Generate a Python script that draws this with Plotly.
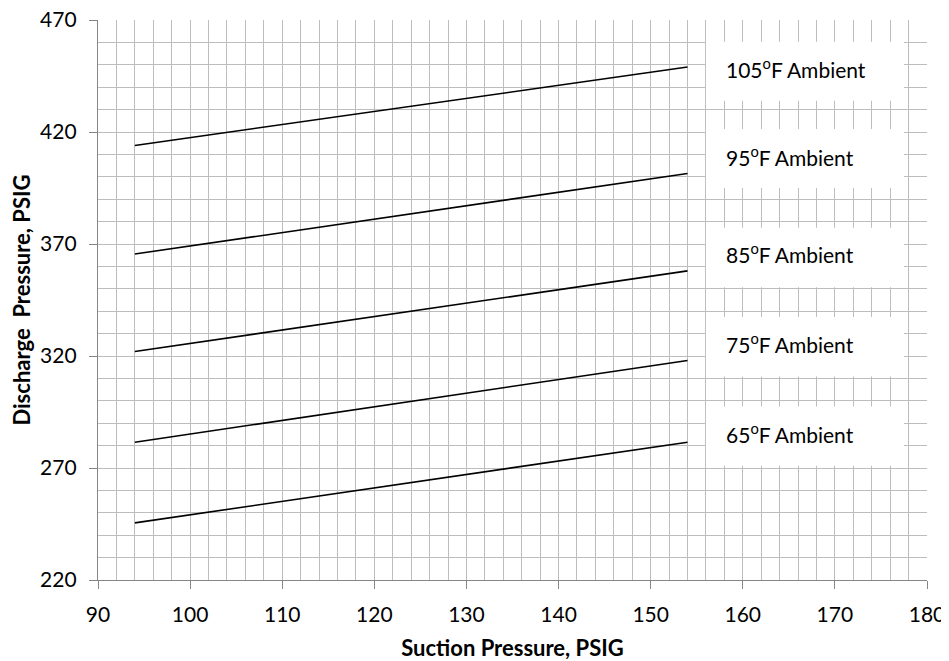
import plotly.graph_objects as go

# Data
suction = [94, 154]
series_names = ["105°F Ambient", "95°F Ambient", "85°F Ambient", "75°F Ambient", "65°F Ambient"]
label_texts = ["105<sup>o</sup>F Ambient", "95<sup>o</sup>F Ambient", "85<sup>o</sup>F Ambient",
               "75<sup>o</sup>F Ambient", "65<sup>o</sup>F Ambient"]
discharge_105 = [414, 449]
discharge_95 = [365.5, 401.5]
discharge_85 = [322, 358]
discharge_75 = [281.5, 318]
discharge_65 = [245.5, 281.5]
all_discharge = [discharge_105, discharge_95, discharge_85, discharge_75, discharge_65]

# Label box positions (style)
box_x = (156.0, 177.5)
box_y = [(434.0, 460.3), (395.0, 421.3), (350.7, 377.3), (310.8, 337.4), (271.0, 297.4)]
text_y = [448.7, 409.3, 366.0, 325.8, 285.6]
text_x = 158.0

FONT = "Lato"
GRID = "#bdbdbd"
AXIS = "#868686"
X_RANGE = [90, 180]
Y_RANGE = [220, 470]

fig = go.Figure()
# invisible trace on the fine-grid axes so they render
fig.add_trace(go.Scatter(x=X_RANGE, y=Y_RANGE, xaxis="x2", yaxis="y2", mode="markers",
                         marker=dict(opacity=0), hoverinfo="skip", showlegend=False))
for name, ys in zip(series_names, all_discharge):
    fig.add_trace(go.Scatter(x=suction, y=ys, mode="lines", name=name,
                             line=dict(color="black", width=1.6), showlegend=False))

for (y0, y1), ty, txt in zip(box_y, text_y, label_texts):
    fig.add_shape(type="rect", xref="x", yref="y", x0=box_x[0], x1=box_x[1], y0=y0, y1=y1,
                  fillcolor="white", line=dict(width=0), layer="above")
    fig.add_annotation(x=text_x, y=ty, xref="x", yref="y", text=txt, showarrow=False,
                       xanchor="left", yanchor="middle",
                       font=dict(family=FONT, size=21, color="black"))

fig.update_layout(
    width=949, height=661,
    margin=dict(l=90, r=30, t=12, b=89),
    paper_bgcolor="white", plot_bgcolor="white",
    font=dict(family=FONT, size=19, color="black"),
    xaxis=dict(
        range=X_RANGE, dtick=10, tick0=90, automargin=False,
        showgrid=False, ticklabeloverflow="allow",
        showline=True, linecolor=AXIS, linewidth=1.3,
        ticks="outside", ticklen=8, tickcolor=AXIS, tickwidth=1.3,
        zeroline=False, ticklabelstandoff=8,
        tickfont=dict(family=FONT, size=21),
        title=dict(text="<b>Suction Pressure, PSIG</b>", font=dict(family=FONT, size=22), standoff=15),
    ),
    yaxis=dict(
        range=Y_RANGE, dtick=50, tick0=220, automargin=False,
        showgrid=False, ticklabeloverflow="allow",
        showline=True, linecolor=AXIS, linewidth=1.3,
        ticks="outside", ticklen=8, tickcolor=AXIS, tickwidth=1.3,
        zeroline=False, ticklabelstandoff=8,
        tickfont=dict(family=FONT, size=21),
        title=dict(text="<b>Discharge&nbsp; Pressure, PSIG</b>", font=dict(family=FONT, size=22), standoff=6),
    ),
    xaxis2=dict(
        range=X_RANGE, dtick=2, tick0=90, overlaying="x",
        showgrid=True, gridcolor=GRID, gridwidth=1.3, showticklabels=False,
        ticks="", zeroline=False, showline=False, automargin=False,
    ),
    yaxis2=dict(
        range=Y_RANGE, dtick=10, tick0=220, overlaying="y",
        showgrid=True, gridcolor=GRID, gridwidth=1.3, showticklabels=False,
        ticks="", zeroline=False, showline=False, automargin=False,
    ),
)

fig.write_html("out.html")
